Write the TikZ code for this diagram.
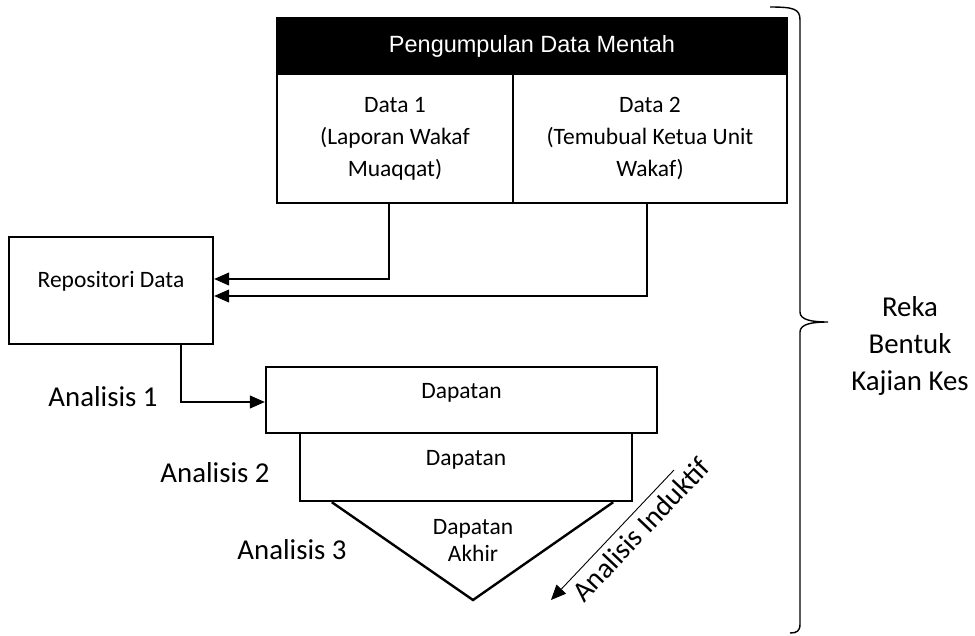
\documentclass[tikz,border=0pt]{standalone}
\usepackage{fontspec}
\setmainfont{Carlito}
\newfontfamily\hdrfont{Liberation Sans}
\usetikzlibrary{arrows.meta,positioning}

\tikzset{
    box/.style={draw, line width=2.4pt, inner sep=0pt},
    txt/.style={font=\fontsize{23.5}{32}\selectfont, align=center},
    big/.style={font=\fontsize{28.8}{37}\selectfont, align=center},
    link/.style={line width=1.1pt, -{Triangle[length=15pt,width=13pt]}},
}

\begin{document}
\begin{tikzpicture}[x=1pt,y=-1pt]
    \useasboundingbox (0,0) rectangle (975,635);

    % raw data on top
    \node[box, fill=black, text=white, font=\hdrfont\fontsize{23.5}{28}\selectfont,
        minimum width=510pt, minimum height=56pt] (hdr) at (532,46) {Pengumpulan Data Mentah};
    \node[box, txt, minimum width=236pt, minimum height=129pt] (data1) at (395,138.5)
        {Data 1\\(Laporan Wakaf\\Muaqqat)};
    \node[box, txt, minimum width=274pt, minimum height=129pt] (data2) at (650,138.5)
        {Data 2\\(Temubual Ketua Unit\\Wakaf)};

    % repository
    \node[box, minimum width=204pt, minimum height=107pt] (repo) at (111,290.5) {};
    \node[txt] (repotxt) at ([yshift=9pt]repo.center) {Repositori Data};

    % findings
    \node[box, minimum width=391pt, minimum height=66pt] (dap1) at (461.5,400) {};
    \node[txt] (dap1txt) at ([yshift=7pt]dap1.center) {Dapatan};
    \node[box, minimum width=332pt, minimum height=68pt] (dap2) at (466,467) {};
    \node[txt] (dap2txt) at ([yshift=7pt]dap2.center) {Dapatan};

    \coordinate (tl) at ([xshift=33pt]dap2.south west);
    \coordinate (tr) at ([xshift=-20pt]dap2.south east);
    \coordinate (apex) at (473,600);
    \draw[line width=2.4pt, line join=miter] (tl) -- (apex) -- (tr);
    \node[txt, font=\fontsize{23.5}{27}\selectfont] (akhir) at (473,540) {Dapatan\\Akhir};

    % connectors
    \draw[link] ([xshift=-6pt]data1.south) |- ([yshift=11.5pt]repo.east);
    \draw[link] ([xshift=-3pt]data2.south) |- ([yshift=-5.5pt]repo.east);
    \draw[link] ([xshift=70pt]repo.south) |- ([yshift=-2pt]dap1.west);

    % stage labels
    \node[big] (an1) at (103,397) {Analisis 1};
    \node[big] (an2) at (215,473) {Analisis 2};
    \node[big] (an3) at (292,550) {Analisis 3};

    \coordinate (indS) at (674,470);
    \coordinate (indE) at (551,600);
    \draw[link, line width=0.9pt] (indS) -- node[big, rotate=46.6, anchor=north, pos=0.37, inner sep=6pt] (induk) {Analisis Induktif} (indE);

    % brace on the right
    \draw[line width=1.4pt] (770,7) .. controls (794,7) and (800,9) .. (800,20)
        -- (800,312) .. controls (800,320) and (812,322) .. (828,322)
        .. controls (812,322) and (800,324) .. (800,332)
        -- (800,624) .. controls (800,631) and (797,633) .. (790,633);
    \node[big] (reka) at (910,346) {Reka\\Bentuk\\Kajian Kes};
\end{tikzpicture}
\end{document}
